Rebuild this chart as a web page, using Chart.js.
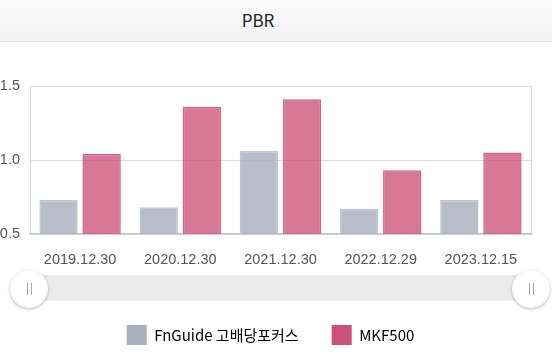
<!DOCTYPE html>
<html><head><meta charset="utf-8">
<script src="https://cdn.jsdelivr.net/npm/chart.js@4"></script>
<style>
html,body{margin:0;padding:0;width:552px;height:362px;overflow:hidden;background:#fff;}
#hdr{position:absolute;left:0;top:0;width:552px;height:41px;border-bottom:1px solid #dcdcdc;background:linear-gradient(#fbfbfb,#f2f3f3);font:17px 'Noto Sans CJK KR','Noto Sans',sans-serif;color:#222;text-align:center;line-height:40px;z-index:2}
#hdr span{position:relative;left:-18px}
#c{position:absolute;left:0;top:0}
.track{position:absolute;left:29px;top:275px;width:502px;height:26px;background:#ebebeb}
.handle{position:absolute;top:270px;width:38px;height:38px;border-radius:50%;background:#fff;box-shadow:0 1px 3px rgba(0,0,0,0.3)}
.handle::after{content:'';position:absolute;left:17px;top:13px;width:5px;height:12px;border-left:1px solid #aaa;border-right:1px solid #aaa;box-sizing:border-box}
</style></head>
<body>
<div id="hdr"><span>PBR</span></div>
<canvas id="c" width="552" height="362"></canvas>
<div class="track"></div>
<div class="handle" style="left:10px"></div>
<div class="handle" style="left:512px"></div>
<script>
const categories = ['2019.12.30','2020.12.30','2021.12.30','2022.12.29','2023.12.15'];
const fnguideValues = [0.73, 0.68, 1.06, 0.67, 0.73];
const mkf500Values = [1.04, 1.36, 1.41, 0.93, 1.05];
const seriesNames = ['FnGuide 고배당포커스', 'MKF500'];
const yTickValues = [0.5, 1.0, 1.5];

const legendColors = ['#a8afbd', '#cc527a'];
const tickFont = {family: "'Liberation Sans', Arial, sans-serif", size: 14.5};

const legendShift = {
  id: 'legendShift',
  afterLayout(chart) {
    if (chart.legend) { chart.legend.left += 5; }
  }
};

new Chart(document.getElementById('c'), {
  type: 'bar',
  data: {
    labels: categories,
    datasets: [
      {label: seriesNames[0], data: fnguideValues, backgroundColor: 'rgba(168,175,189,0.82)', borderColor: 'rgba(190,196,206,1)', borderWidth: 1.5, categoryPercentage: 0.86, barPercentage: 0.89},
      {label: seriesNames[1], data: mkf500Values, backgroundColor: 'rgba(204,82,122,0.78)', borderColor: 'rgba(204,82,122,0.9)', borderWidth: 1.5, categoryPercentage: 0.86, barPercentage: 0.89}
    ]
  },
  options: {
    responsive: false,
    animation: false,
    devicePixelRatio: 1,
    layout: {padding: {top: 86, right: 16, left: 0, bottom: 7}},
    scales: {
      y: {
        min: 0.5, max: 1.5,
        afterBuildTicks: s => { s.ticks = yTickValues.map(v => ({value: v})); },
        afterFit: s => { s.width = 30; },
        ticks: {font: tickFont, color: '#555', padding: 10, callback: v => Number(v).toFixed(1)},
        grid: {color: '#dcdcdc', drawTicks: false},
        border: {display: true, color: '#d6d6d6'}
      },
      y2: {
        position: 'right',
        min: 0.5, max: 1.5,
        afterFit: s => { s.width = 5; },
        ticks: {display: false},
        grid: {display: false, drawTicks: false},
        border: {display: true, color: '#d6d6d6'}
      },
      x: {
        afterFit: s => { s.height = 58; },
        ticks: {font: tickFont, color: '#555', padding: 17, maxRotation: 0},
        grid: {display: false, drawTicks: false},
        border: {display: true, color: '#c4c4c4', width: 1.5}
      }
    },
    plugins: {
      title: {display: false},
      tooltip: {enabled: false},
      legend: {
        position: 'bottom',
        labels: {
          boxWidth: 20, boxHeight: 20, padding: 33, color: '#333',
          font: {family: "'Noto Sans CJK KR', 'Noto Sans', sans-serif", size: 15},
          generateLabels: chart => chart.data.datasets.map((d, i) => ({
            text: d.label, fillStyle: legendColors[i], strokeStyle: legendColors[i], lineWidth: 0, datasetIndex: i, hidden: false
          }))
        }
      }
    }
  },
  plugins: [legendShift]
});
</script>
</body></html>
